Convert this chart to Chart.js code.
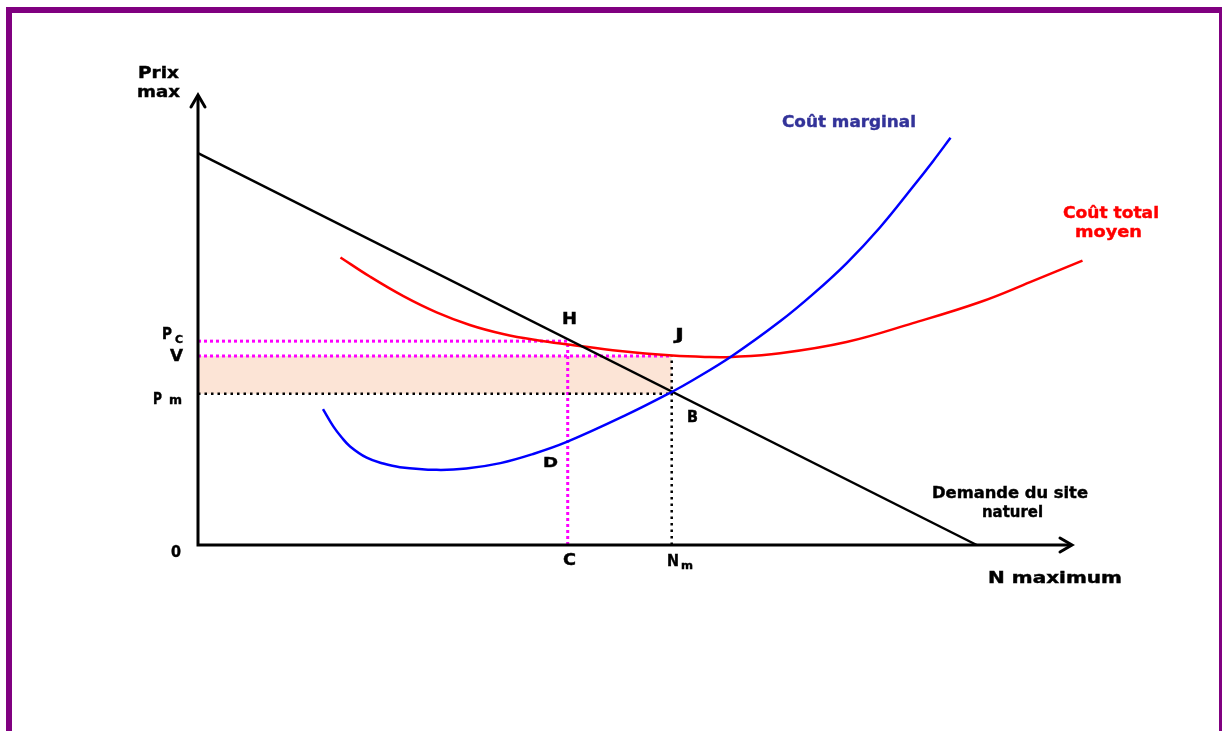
<!DOCTYPE html>
<html>
<head>
<meta charset="utf-8">
<script src="https://cdn.jsdelivr.net/npm/chart.js@4/dist/chart.umd.min.js"></script>
<style>
html,body{margin:0;padding:0;background:#fff;}
canvas{display:block;}
</style>
</head>
<body>
<canvas id="c" width="1222" height="731"></canvas>
<script>
// ---- data (arbitrary units: quantity 0..100, price 0..100) ----
const demandX = [0, 89.1];
const demandY = [87.1, 0];

const mcX = [14.3, 15.5, 16.4, 17.4, 19.3, 21.2, 23.1, 27.3, 30.7, 34.6, 38.3, 42.2, 49.0, 54.2, 56.6, 61.1, 66.6, 70.4, 74.2, 78.0, 81.8, 84.1, 86.1];
const mcY = [30.2, 26.3, 24.0, 21.9, 19.4, 18.1, 17.3, 16.7, 17.0, 18.2, 20.2, 22.9, 28.9, 34.0, 36.6, 42.0, 49.7, 55.8, 62.6, 70.5, 79.6, 85.3, 90.5];

const atcX = [16.3, 19.7, 23.5, 27.3, 31.1, 34.9, 38.8, 42.6, 48.3, 54.3, 58.0, 61.1, 66.6, 74.2, 81.8, 89.5, 95.2, 101.2];
const atcY = [63.9, 59.6, 55.3, 51.7, 48.9, 46.9, 45.5, 44.5, 43.1, 42.1, 41.8, 41.8, 42.6, 45.1, 49.3, 54.0, 58.4, 63.2];

const qC = 42.3;   // C
const qNm = 54.2;  // Nm
const pC = 45.3;   // Pc
const pV = 42.0;   // V
const pM = 33.6;   // Pm

const axisMax = 100;

const pts = (xs, ys) => xs.map((x, i) => ({x: x, y: ys[i]}));

const MAGENTA = '#FF00FF';
const BLACK = '#000000';

const datasets = [
  // shaded rectangle between Pm and V up to Nm
  {data: [{x: 0, y: pV}, {x: qNm, y: pV}], fill: {value: pM}, backgroundColor: '#FCE4D6',
   borderWidth: 0, pointRadius: 0, order: 20},
  // dotted guides
  {data: [{x: 0, y: pC}, {x: qC, y: pC}], borderColor: MAGENTA, borderWidth: 3, borderDash: [3, 3], pointRadius: 0, order: 10},
  {data: [{x: 0, y: pV}, {x: qNm, y: pV}], borderColor: MAGENTA, borderWidth: 3, borderDash: [3, 3], pointRadius: 0, order: 10},
  {data: [{x: qC, y: 0}, {x: qC, y: pC}], borderColor: MAGENTA, borderWidth: 3, borderDash: [3, 3], pointRadius: 0, order: 10},
  {data: [{x: 0, y: pM}, {x: qNm, y: pM}], borderColor: BLACK, borderWidth: 2.5, borderDash: [2.5, 4], pointRadius: 0, order: 9},
  {data: [{x: qNm, y: 0}, {x: qNm, y: pV}], borderColor: BLACK, borderWidth: 2.5, borderDash: [2.5, 4], pointRadius: 0, order: 9},
  // curves
  {data: pts(atcX, atcY), borderColor: '#FF0000', borderWidth: 2.5, pointRadius: 0, tension: 0.4, order: 3},
  {data: pts(demandX, demandY), borderColor: BLACK, borderWidth: 2.5, pointRadius: 0, order: 2},
  {data: pts(mcX, mcY), borderColor: '#0000FF', borderWidth: 2.5, pointRadius: 0, tension: 0.4, order: 1}
].map(d => Object.assign({showLine: true, clip: false, fill: false}, d));

function txt(ctx, s, left, right, baseline, size, color) {
  ctx.save();
  ctx.font = 'bold ' + size + 'px "DejaVu Sans"';
  const w = ctx.measureText(s).width;
  const sx = (right - left) / w;
  ctx.translate(left, baseline);
  ctx.scale(sx, 1);
  ctx.fillStyle = color;
  ctx.strokeStyle = color;
  ctx.lineWidth = 0.4;
  ctx.textAlign = 'left';
  ctx.textBaseline = 'alphabetic';
  ctx.fillText(s, 0, 0);
  ctx.strokeText(s, 0, 0);
  ctx.restore();
}

const decor = {
  id: 'decor',
  beforeDraw(chart) {
    const ctx = chart.ctx;
    ctx.save();
    ctx.fillStyle = '#FFFFFF';
    ctx.fillRect(0, 0, chart.width, chart.height);
    ctx.fillStyle = '#800080';
    ctx.fillRect(6, 7, 1216, 6);
    ctx.fillRect(6, 7, 6, 724);
    ctx.fillRect(1219, 7, 3, 724);
    ctx.restore();
  },
  afterDraw(chart) {
    const ctx = chart.ctx;
    const xs = chart.scales.x, ys = chart.scales.y;
    const x0 = xs.getPixelForValue(0), y0 = ys.getPixelForValue(0);
    const xe = xs.getPixelForValue(axisMax), ye = ys.getPixelForValue(axisMax);
    ctx.save();
    ctx.strokeStyle = '#000';
    ctx.lineWidth = 3;
    ctx.lineCap = 'butt';
    ctx.beginPath();
    ctx.moveTo(x0, y0); ctx.lineTo(xe - 1, y0);
    ctx.moveTo(x0, y0 + 1.5); ctx.lineTo(x0, ye + 1);
    ctx.stroke();
    ctx.lineCap = 'round';
    ctx.lineJoin = 'miter';
    ctx.beginPath();
    ctx.moveTo(xe - 12, y0 - 7); ctx.lineTo(xe, y0); ctx.lineTo(xe - 12, y0 + 7);
    ctx.moveTo(x0 - 7, ye + 12); ctx.lineTo(x0, ye); ctx.lineTo(x0 + 7, ye + 12);
    ctx.stroke();
    ctx.restore();

    const K = '#000';
    txt(ctx, 'Prix', 138, 179, 78, 15, K);
    txt(ctx, 'max', 137, 180, 97, 15, K);
    txt(ctx, 'Coût marginal', 782, 916, 127, 15, '#333399');
    txt(ctx, 'Coût total', 1063, 1159, 218, 15, '#FF0000');
    txt(ctx, 'moyen', 1075, 1142, 237, 15, '#FF0000');
    txt(ctx, 'Demande du site', 932, 1088, 498, 15, K);
    txt(ctx, 'naturel', 982, 1043, 517, 15, K);
    txt(ctx, 'N maximum', 988, 1122, 583, 15, K);
    txt(ctx, 'H', 562, 577, 324, 15, K);
    txt(ctx, 'J', 675, 684, 340, 15, K);
    txt(ctx, 'B', 687, 698, 422, 15, K);
    txt(ctx, 'D', 543, 558, 467, 14, K);
    txt(ctx, 'C', 563, 576, 565, 15, K);
    txt(ctx, 'N', 667, 679, 566, 15, K);
    txt(ctx, 'm', 681, 693, 569, 10, K);
    txt(ctx, 'P', 162, 172, 339, 15, K);
    txt(ctx, 'C', 175, 183, 343, 11, K);
    txt(ctx, 'V', 170, 183, 361, 15, K);
    txt(ctx, 'P', 153, 162, 404, 15, K);
    txt(ctx, 'm', 169, 182, 404, 12, K);
    txt(ctx, '0', 171, 181, 557, 15, K);
  }
};

new Chart(document.getElementById('c'), {
  type: 'scatter',
  data: {datasets: datasets},
  options: {
    responsive: false,
    animation: false,
    events: [],
    layout: {padding: {left: 198, right: 150, top: 95, bottom: 186}},
    plugins: {legend: {display: false}, tooltip: {enabled: false}, title: {display: false}},
    scales: {
      x: {type: 'linear', min: 0, max: axisMax, display: false},
      y: {type: 'linear', min: 0, max: axisMax, display: false}
    }
  },
  plugins: [decor]
});
</script>
</body>
</html>
